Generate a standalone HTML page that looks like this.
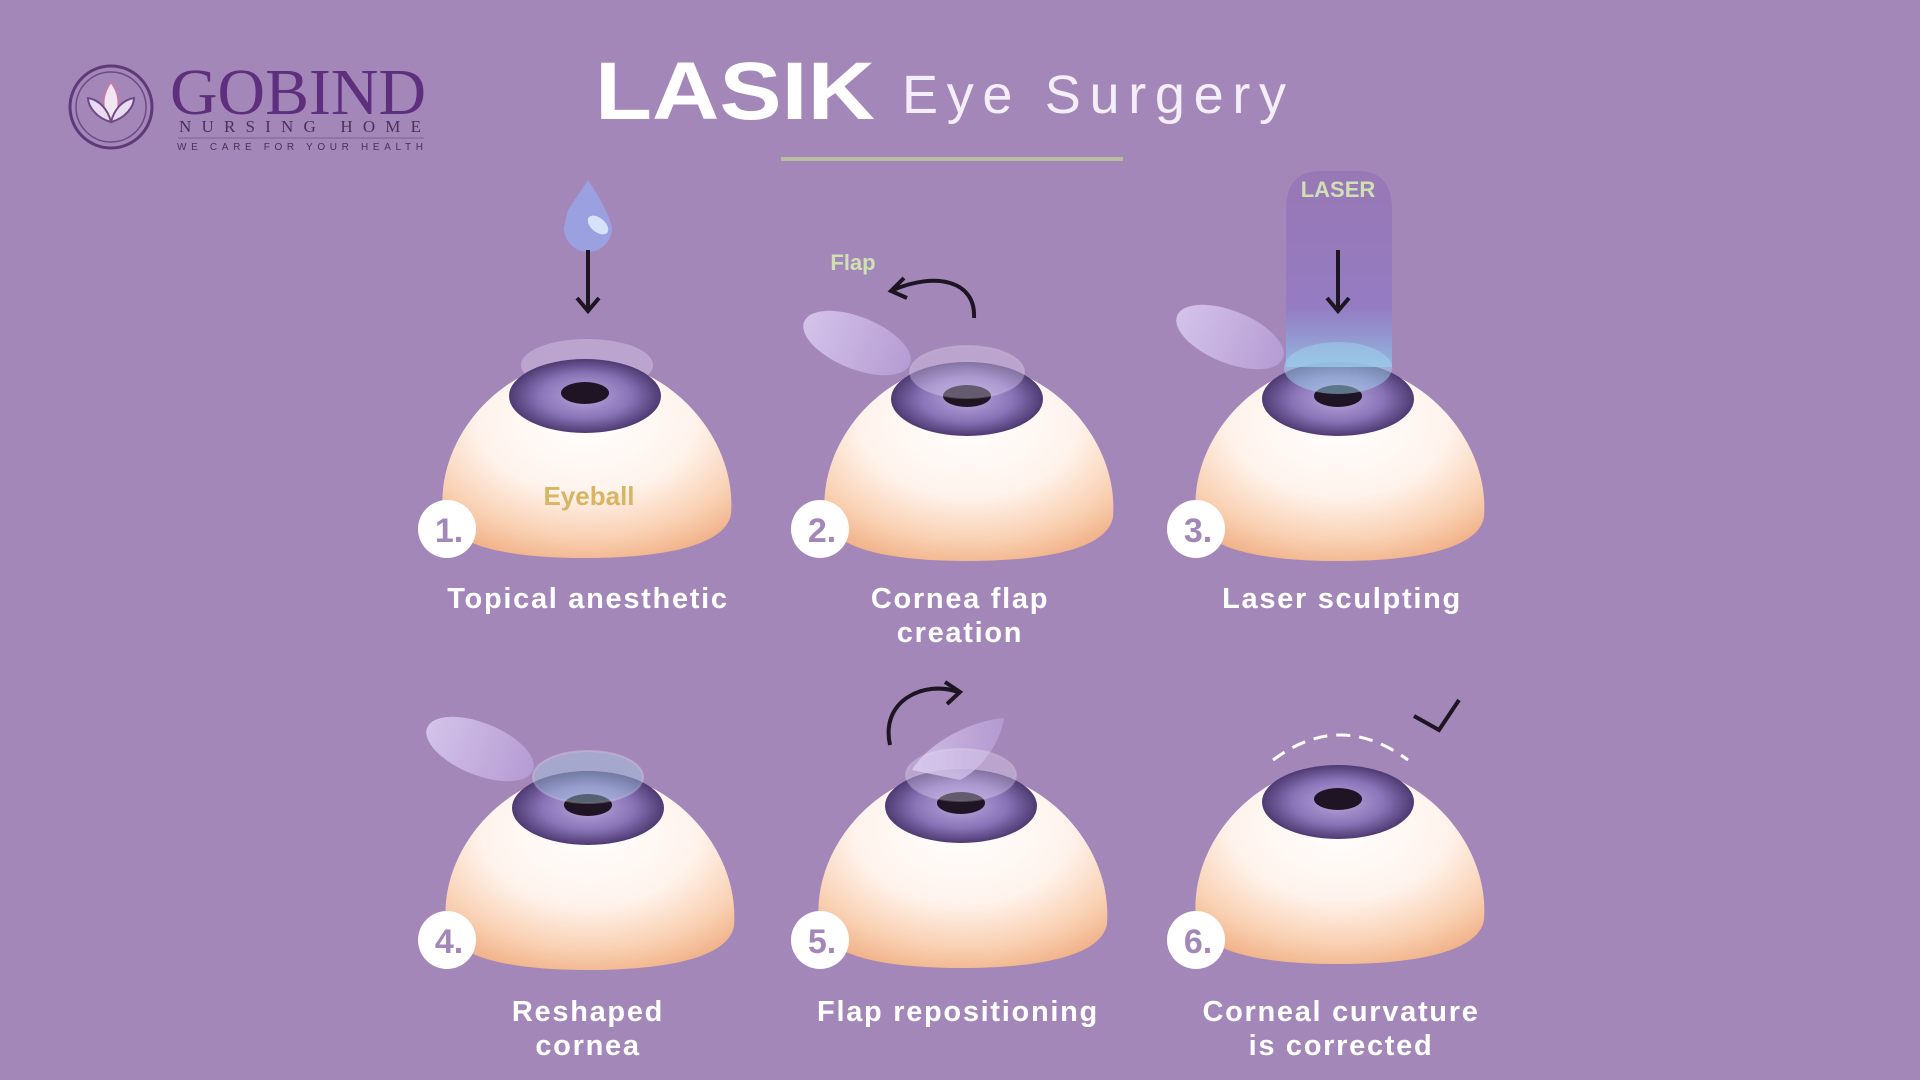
<!DOCTYPE html>
<html><head><meta charset="utf-8"><style>
html,body{margin:0;padding:0;background:#a487b9;}
svg{display:block}
</style></head><body>
<svg width="1920" height="1080" viewBox="0 0 1920 1080" xmlns="http://www.w3.org/2000/svg">
<defs>
<radialGradient id="dome" cx="0.5" cy="0.3" r="0.75">
<stop offset="0" stop-color="#ffffff"/><stop offset="0.5" stop-color="#fff3ec"/><stop offset="0.8" stop-color="#f9d0b2"/><stop offset="1" stop-color="#f0b086"/>
</radialGradient>
<radialGradient id="iris" cx="0.5" cy="0.5" r="0.5">
<stop offset="0" stop-color="#b9a6dc"/><stop offset="0.6" stop-color="#8a74b8"/><stop offset="1" stop-color="#4e3a72"/>
</radialGradient>
<linearGradient id="flap" x1="0" y1="0" x2="1" y2="0">
<stop offset="0" stop-color="#d9c9ef"/><stop offset="1" stop-color="#b79ed6"/>
</linearGradient>
<linearGradient id="laser" x1="0" y1="0" x2="0" y2="1">
<stop offset="0" stop-color="#8a66b0" stop-opacity="0.45"/><stop offset="0.7" stop-color="#8e78c8" stop-opacity="0.7"/><stop offset="1" stop-color="#8ec4e8" stop-opacity="0.8"/>
</linearGradient>
<g id="eye">
<path d="M -142 118 C -150 40 -80 -36 0 -36 C 82 -36 152 40 146 118 C 140 152 70 162 0 162 C -70 162 -136 152 -142 118 Z" fill="url(#dome)"/>
<ellipse cx="0" cy="0" rx="76" ry="37" fill="url(#iris)"/>
<ellipse cx="0" cy="-3" rx="24" ry="11" fill="#1e1424"/>
</g>
</defs>

<!-- Logo -->
<circle cx="111" cy="107" r="41" fill="none" stroke="#5e3a78" stroke-width="3"/>
<circle cx="111" cy="107" r="35" fill="none" stroke="#6e4a88" stroke-width="1.5"/>
<path d="M111 82 C101 95 101 112 111 122 C121 112 121 95 111 82Z" fill="#f3e6f3" stroke="#c77aa6" stroke-width="2"/>
<path d="M111 122 C96 118 88 106 88 98 C100 100 108 110 111 122Z" fill="#eadcf0" stroke="#6e4a88" stroke-width="2"/>
<path d="M111 122 C126 118 134 106 134 98 C122 100 114 110 111 122Z" fill="#eadcf0" stroke="#6e4a88" stroke-width="2"/>
<text x="170" y="114" font-family="Liberation Serif, serif" font-size="66" fill="#5e2f7c" textLength="256" lengthAdjust="spacingAndGlyphs">GOBIND</text>
<text x="179" y="132" font-family="Liberation Serif, serif" font-size="17" fill="#4a3158" textLength="242" lengthAdjust="spacing">NURSING HOME</text>
<line x1="178" y1="138" x2="424" y2="138" stroke="#7a6a88" stroke-width="1"/>
<text x="177" y="150" font-family="Liberation Sans, sans-serif" font-size="10" fill="#4a3158" textLength="246" lengthAdjust="spacing">WE CARE FOR YOUR HEALTH</text>

<!-- Title -->
<text x="595" y="119" font-family="Liberation Sans, sans-serif" font-weight="bold" font-size="82" fill="#ffffff" textLength="280" lengthAdjust="spacingAndGlyphs">LASIK</text>
<text x="902" y="113" font-family="Liberation Sans, sans-serif" font-size="54" fill="#f4eef8" textLength="384" lengthAdjust="spacing">Eye Surgery</text>
<rect x="781" y="157" width="342" height="4" fill="#b9bf9e"/>

<!-- Eye 1 -->
<path d="M568 210 Q588 180 588 180 Q608 210 612 228 A24 24 0 1 1 564 228 Q566 218 568 210Z" fill="#9aa6e6" opacity="0.85"/>
<ellipse cx="598" cy="225" rx="12" ry="7" fill="#d6e2fa" transform="rotate(40 598 225)"/>
<line x1="588" y1="250" x2="588" y2="310" stroke="#1d1522" stroke-width="4"/>
<path d="M577 298 L588 311 L599 298" fill="none" stroke="#1d1522" stroke-width="4"/>
<ellipse cx="587" cy="365" rx="66" ry="26" fill="#e8defa" opacity="0.35"/>
<use href="#eye" x="585" y="396"/>
<text x="589" y="505" text-anchor="middle" font-family="Liberation Sans, sans-serif" font-weight="bold" font-size="26" fill="#d7b562">Eyeball</text>

<!-- Eye 2 -->
<ellipse cx="857" cy="343" rx="57" ry="26" fill="url(#flap)" opacity="0.9" transform="rotate(22 857 343)"/>
<use href="#eye" x="967" y="399"/>
<ellipse cx="967" cy="372" rx="57" ry="26" fill="#e8defa" opacity="0.35" stroke="#ffffff" stroke-opacity="0.6" stroke-width="2"/>
<text x="853" y="270" text-anchor="middle" font-family="Liberation Sans, sans-serif" font-weight="bold" font-size="22" fill="#cfe0b4">Flap</text>
<path d="M974 318 C976 280 935 272 893 290" fill="none" stroke="#1d1522" stroke-width="4"/>
<path d="M904 278 L891 291 L907 298" fill="none" stroke="#1d1522" stroke-width="4"/>

<!-- Eye 3 -->
<ellipse cx="1230" cy="337" rx="57" ry="26" fill="url(#flap)" opacity="0.9" transform="rotate(22 1230 337)"/>
<use href="#eye" x="1338" y="399"/>
<path d="M1286 367 L1286 210 Q1286 171 1320 171 L1358 171 Q1392 171 1392 210 L1392 367 Z" fill="url(#laser)"/>
<ellipse cx="1338" cy="368" rx="54" ry="26" fill="#9fd6ee" opacity="0.5"/>
<text x="1338" y="197" text-anchor="middle" font-family="Liberation Sans, sans-serif" font-weight="bold" font-size="22" fill="#cfe0b4">LASER</text>
<line x1="1338" y1="250" x2="1338" y2="310" stroke="#1d1522" stroke-width="4"/>
<path d="M1327 298 L1338 311 L1349 298" fill="none" stroke="#1d1522" stroke-width="4"/>

<!-- Eye 4 -->
<ellipse cx="480" cy="749" rx="57" ry="26" fill="url(#flap)" opacity="0.9" transform="rotate(22 480 749)"/>
<use href="#eye" x="588" y="808"/>
<ellipse cx="588" cy="777" rx="55" ry="26" fill="#a8d8ea" opacity="0.4" stroke="#ffffff" stroke-opacity="0.6" stroke-width="2"/>

<!-- Eye 5 -->
<use href="#eye" x="961" y="806"/>
<path d="M912 770 C930 740 975 720 1004 718 C1000 745 980 770 960 780 Z" fill="url(#flap)" opacity="0.8"/>
<ellipse cx="961" cy="775" rx="55" ry="26" fill="#e8defa" opacity="0.35" stroke="#ffffff" stroke-opacity="0.6" stroke-width="2"/>
<path d="M890 745 C880 700 925 680 958 692" fill="none" stroke="#1d1522" stroke-width="4"/>
<path d="M945 682 L960 692 L947 704" fill="none" stroke="#1d1522" stroke-width="4"/>

<!-- Eye 6 -->
<use href="#eye" x="1338" y="802"/>
<path d="M1273 760 Q1340 710 1408 760" fill="none" stroke="#ffffff" stroke-width="3" stroke-dasharray="14 9"/>
<path d="M1414 716 L1439 730 L1459 700" fill="none" stroke="#1d1522" stroke-width="4"/>

<!-- Numbers -->
<g font-family="Liberation Sans, sans-serif" font-weight="bold" font-size="34" fill="#a487b9" text-anchor="middle">
<circle cx="447" cy="529" r="29" fill="#fff"/><text x="449" y="542">1.</text>
<circle cx="820" cy="529" r="29" fill="#fff"/><text x="822" y="542">2.</text>
<circle cx="1196" cy="529" r="29" fill="#fff"/><text x="1198" y="542">3.</text>
<circle cx="447" cy="940" r="29" fill="#fff"/><text x="449" y="953">4.</text>
<circle cx="820" cy="940" r="29" fill="#fff"/><text x="822" y="953">5.</text>
<circle cx="1196" cy="940" r="29" fill="#fff"/><text x="1198" y="953">6.</text>
</g>

<!-- Labels -->
<g font-family="Liberation Sans, sans-serif" font-weight="bold" font-size="29" fill="#ffffff" text-anchor="middle" letter-spacing="1.7">
<text x="588" y="608">Topical anesthetic</text>
<text x="960" y="608">Cornea flap</text>
<text x="960" y="642">creation</text>
<text x="1342" y="608">Laser sculpting</text>
<text x="588" y="1021">Reshaped</text>
<text x="588" y="1055">cornea</text>
<text x="958" y="1021">Flap repositioning</text>
<text x="1341" y="1021">Corneal curvature</text>
<text x="1341" y="1055">is corrected</text>
</g>
</svg>
</body></html>
